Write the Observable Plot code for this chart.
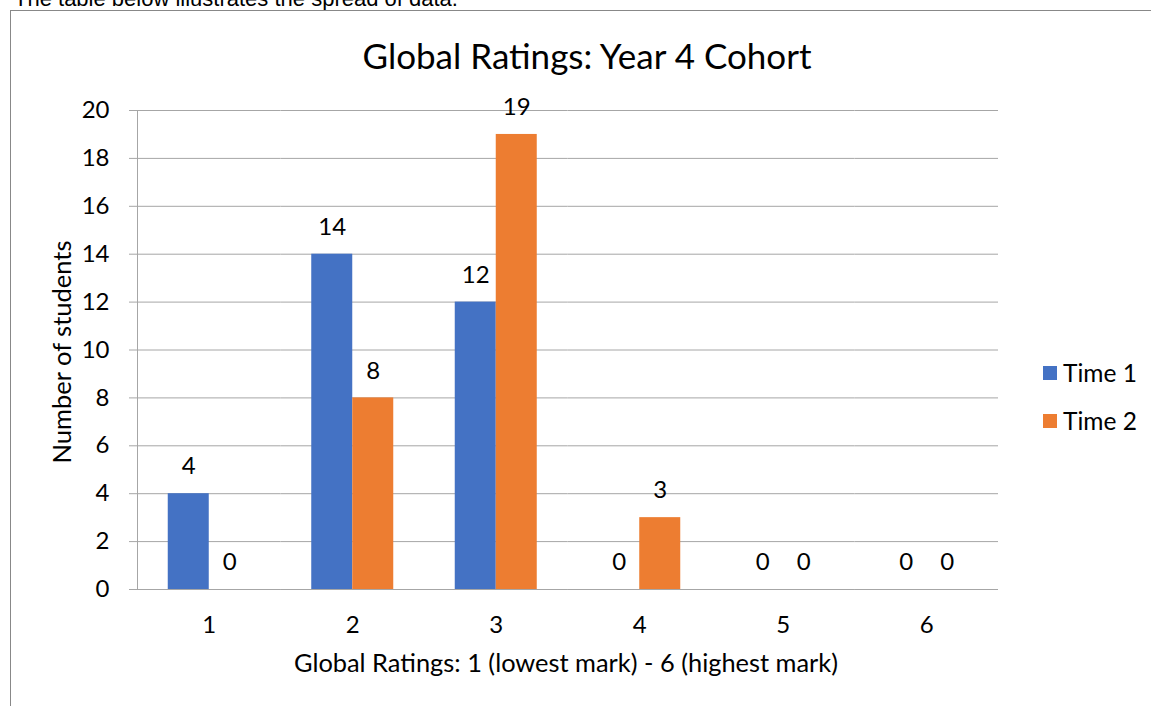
<!DOCTYPE html>
<html>
<head>
<meta charset="utf-8">
<script src="https://cdn.jsdelivr.net/npm/d3@7"></script>
<script src="https://cdn.jsdelivr.net/npm/@observablehq/plot@0.6"></script>
<style>
  html, body { margin: 0; padding: 0; background: #fff; }
  #wrap { position: relative; width: 1151px; height: 706px; overflow: hidden; font-family: Lato, sans-serif; color: #000; }
  #wrap svg { position: absolute; left: 0; top: 0; }
  .ov { position: absolute; white-space: nowrap; line-height: 1; }
  .c { transform: translate(-50%, -50%); }
  #intro { left: 14px; top: -12px; font-family: "Liberation Sans", Arial, sans-serif; font-size: 22px; line-height: 22px; }
  #border { position: absolute; left: 10px; top: 10px; width: 1200px; height: 800px; border-left: 1px solid #888; border-top: 1px solid #888; box-sizing: border-box; }
  .sw { position: absolute; width: 14px; height: 14px; }
</style>
</head>
<body>
<div id="wrap">
  <div id="intro" class="ov">The table below illustrates the spread of data.</div>
  <div id="border"></div>
  <div id="chart"></div>
  <div id="title" class="ov c" style="left:587px; top:55px; font-size:35px;"></div>
  <div id="ytitle" class="ov" style="left:62px; top:352px; font-size:25.5px; transform: translate(-50%,-50%) rotate(-90deg);"></div>
  <div id="xtitle" class="ov c" style="left:566px; top:663px; font-size:25.4px;"></div>
  <div id="legend"></div>
</div>
<script>
const chartTitle = "Global Ratings: Year 4 Cohort";
const yTitle = "Number of students";
const xTitle = "Global Ratings: 1 (lowest mark) - 6 (highest mark)";
const ratings = [1, 2, 3, 4, 5, 6];
const seriesNames = ["Time 1", "Time 2"];
const time1 = [4, 14, 12, 0, 0, 0];
const time2 = [0, 8, 19, 3, 0, 0];
const yTicks = [0, 2, 4, 6, 8, 10, 12, 14, 16, 18, 20];
const colors = ["#4472C4", "#ED7D31"];

const data = ratings.flatMap((r, i) => [
  {rating: r, series: seriesNames[0], count: time1[i]},
  {rating: r, series: seriesNames[1], count: time2[i]}
]);

const gridColor = "#a6a6a6";
const fs = 24;

const chart = Plot.plot({
  width: 1151,
  height: 706,
  marginLeft: 137,
  marginRight: 153,
  marginTop: 110,
  marginBottom: 117,
  style: {fontFamily: "Lato, sans-serif", fontSize: fs + "px", color: "#000", background: "transparent"},
  fx: {domain: ratings, padding: 0, round: false, label: null},
  x: {domain: seriesNames, paddingInner: 0, paddingOuter: 0.75, round: false, axis: null},
  y: {domain: [0, 20], label: null},
  color: {domain: seriesNames, range: colors},
  marks: [
    Plot.gridY(yTicks, {stroke: gridColor, strokeOpacity: 1, strokeWidth: 1}),
    Plot.barY(data, {fx: "rating", x: "series", y: "count", fill: "series"}),
    Plot.ruleY([0], {stroke: gridColor, strokeWidth: 1}),
    Plot.frame({anchor: "left", facetAnchor: "left", stroke: gridColor}),
    Plot.axisY(yTicks, {tickSize: 8, tickPadding: 20, stroke: gridColor, strokeOpacity: 1, fontSize: fs, label: null}),
    Plot.axisFx({anchor: "bottom", tickSize: 0, tickPadding: 26, fontSize: fs, label: null}),
    Plot.text(data, {fx: "rating", x: "series", y: "count", text: d => String(d.count), dy: -27, fontSize: fs, fill: "#000"})
  ]
});
document.getElementById("chart").appendChild(chart);

document.getElementById("title").textContent = chartTitle;
document.getElementById("ytitle").textContent = yTitle;
document.getElementById("xtitle").textContent = xTitle;

const legend = document.getElementById("legend");
seriesNames.forEach((name, i) => {
  const top = 373 + i * 48;
  const sw = document.createElement("div");
  sw.className = "sw";
  sw.style.left = "1043px";
  sw.style.top = (top - 7) + "px";
  sw.style.background = colors[i];
  legend.appendChild(sw);
  const t = document.createElement("div");
  t.className = "ov";
  t.style.left = "1063px";
  t.style.top = top + "px";
  t.style.transform = "translateY(-50%)";
  t.style.fontSize = "24.5px";
  t.textContent = name;
  legend.appendChild(t);
});
</script>
</body>
</html>
